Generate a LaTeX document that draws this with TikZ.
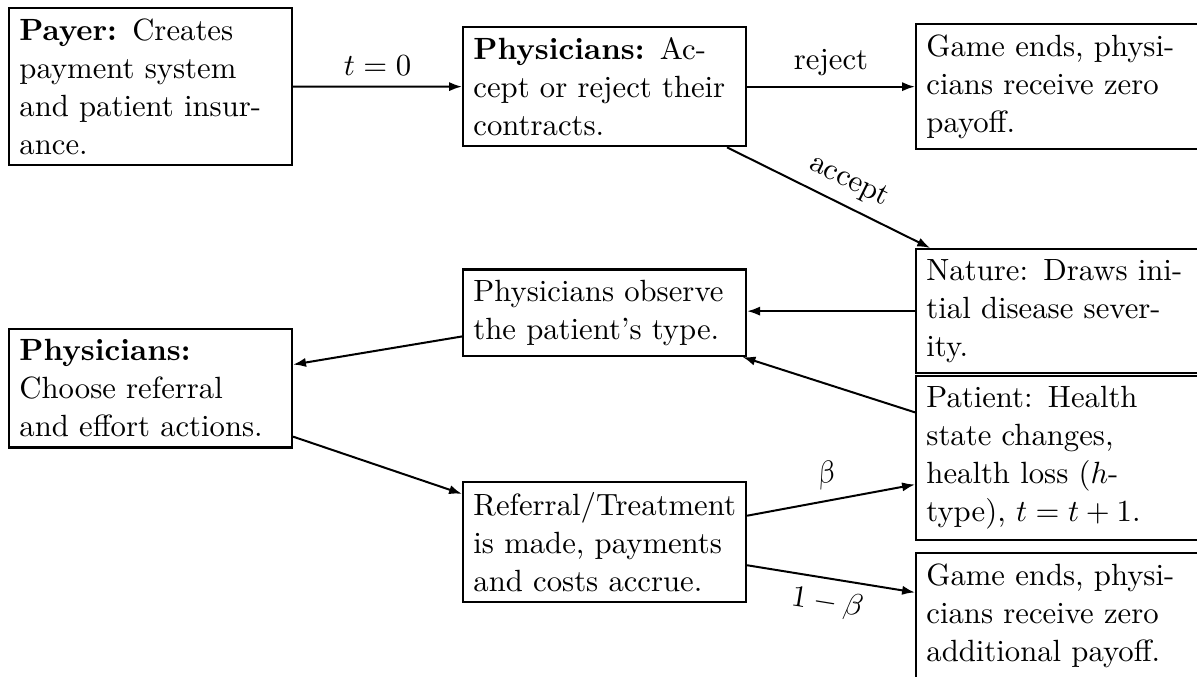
\documentclass[tikz,border=0pt]{standalone}
\usetikzlibrary{arrows.meta}
\begin{document}
\begin{tikzpicture}[x=0.3257pt,y=-0.3257pt,
  box/.style={draw, line width=0.8pt, text width=85.4pt, inner sep=3.33pt, anchor=north west,
    font=\fontsize{10}{12.4}\selectfont},
  arr/.style={line width=0.65pt, -{Latex[length=4.2pt,width=3pt]}}]
\useasboundingbox (0,0) rectangle (1197,677);
\clip (0,0) rectangle (1197,677);
\node[box] (payer) at (8,7) {\textbf{Payer:} Creates payment system and patient insurance.};
\node[box] (acc) at (462,26) {\textbf{Physicians:} Accept or reject their contracts.};
\node[box] (rej) at (915,23) {Game ends, physicians receive zero payoff.};
\node[box] (nature) at (915,248) {Nature: Draws ini-\linebreak tial disease sever-\linebreak ity.};
\node[box] (patient) at (915,375) {Patient: Health state changes, health loss ($h$-type), $t=t+1$.};
\node[box] (end2) at (915,552) {Game ends, physicians receive zero additional payoff.};
\node[box, anchor=south west] (observe) at (462,357) {Physicians observe the patient's type.};
\node[box] (choose) at (8,328) {\textbf{Physicians:}\\ Choose referral\\ and effort actions.};
\node[box] (referral) at (462,481) {Referral/Treatment is made, payments and costs accrue.};

\draw[arr] (payer) -- node[above] {$t=0$} (acc);
\draw[arr] (acc.east) -- node[above] {reject} (acc.east -| rej.west);
\draw[arr] (acc) -- node[above, sloped, pos=0.55] {accept} (nature);
\draw[arr] (nature.west) -- (nature.west -| observe.east);
\draw[arr] (patient) -- (observe);
\draw[arr] (observe) -- (choose);
\draw[arr] (choose) -- (referral);
\draw[arr] (referral) -- node[above, sloped] {$\beta$} (patient);
\draw[arr] (referral) -- node[below, sloped] {$1-\beta$} (end2);
\end{tikzpicture}
\end{document}
